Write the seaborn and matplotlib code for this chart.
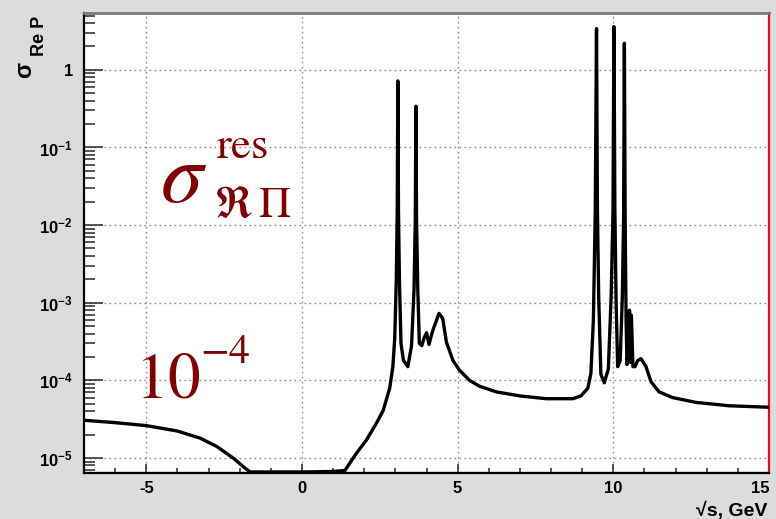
import matplotlib
matplotlib.use("Agg")
import matplotlib.pyplot as plt
import seaborn as sns
import pandas as pd
from matplotlib.ticker import FixedLocator, MultipleLocator, LogLocator, NullFormatter

# ---- data ----
x_gev = [-7.0, -6.0, -5.0, -4.02, -3.27, -2.73, -2.2, -1.88, -1.67,
         0.0, 1.0, 1.38, 1.75, 2.07, 2.39, 2.61, 2.82, 2.92, 2.98,
         3.03, 3.06, 3.08, 3.10, 3.13, 3.18, 3.26, 3.40, 3.52,
         3.60, 3.64, 3.66, 3.68, 3.72, 3.77, 3.85, 3.92, 4.00, 4.08,
         4.14, 4.22, 4.30, 4.40, 4.52, 4.64, 4.85, 5.06, 5.38, 5.7, 6.24,
         7.0, 7.84, 8.7, 8.96, 9.18, 9.28, 9.36, 9.42, 9.46, 9.49,
         9.53, 9.60, 9.71, 9.84, 9.93, 9.99, 10.02, 10.05, 10.09, 10.14,
         10.22, 10.29, 10.33, 10.355, 10.38, 10.41, 10.44, 10.49, 10.52,
         10.55, 10.58, 10.63, 10.70, 10.78, 10.89, 11.05, 11.21, 11.47,
         11.9, 12.65, 13.72, 15.0]
sigma = [3.06e-5, 2.85e-5, 2.61e-5, 2.23e-5, 1.8e-5, 1.4e-5, 9.9e-6, 7.7e-6, 6.6e-6,
         6.6e-6, 6.7e-6, 6.9e-6, 1.15e-5, 1.7e-5, 2.8e-5, 4.1e-5, 8.0e-5, 1.5e-4, 3.5e-4,
         2.0e-3, 1.5e-2, 0.72, 1.5e-2, 2.0e-3, 3.0e-4, 1.8e-4, 1.5e-4, 2.8e-4,
         1.5e-3, 1.2e-2, 0.34, 1.2e-2, 1.5e-3, 3.0e-4, 2.8e-4, 3.5e-4, 4.1e-4, 2.9e-4,
         3.6e-4, 4.6e-4, 5.6e-4, 7.3e-4, 6.3e-4, 3.1e-4, 1.8e-4, 1.35e-4, 1.0e-4, 8.4e-5, 7.1e-5,
         6.3e-5, 5.8e-5, 5.8e-5, 6.3e-5, 7.9e-5, 1.23e-4, 6.0e-4, 1.5e-2, 3.4, 1.5e-2,
         1.2e-3, 1.2e-4, 9.3e-5, 1.4e-4, 1.2e-3, 1.5e-2, 3.6, 1.5e-2, 1.0e-3, 1.5e-4,
         1.8e-4, 1.2e-3, 1.2e-2, 2.2, 1.2e-2, 6.0e-4, 1.6e-4, 3.0e-4, 8.0e-4,
         1.7e-4, 6.9e-4, 1.5e-4, 1.5e-4, 1.8e-4, 1.9e-4, 1.5e-4, 9.6e-5, 7.1e-5,
         6.0e-5, 5.2e-5, 4.7e-5, 4.5e-5]

x_ticks = [-5, 0, 5, 10, 15]
x_tick_labels = ["-5", "0", "5", "10", "15"]
y_ticks = [1e-5, 1e-4, 1e-3, 1e-2, 1e-1, 1]
y_tick_labels = [r"$10^{-5}$", r"$10^{-4}$", r"$10^{-3}$", r"$10^{-2}$", r"$10^{-1}$", "1"]

# ---- style ----
sns.set_theme(style="white")
plt.rcParams["font.family"] = ["Liberation Sans", "DejaVu Sans"]
plt.rcParams["mathtext.fontset"] = "custom"
plt.rcParams["mathtext.rm"] = "Liberation Sans:bold"
plt.rcParams["mathtext.it"] = "Liberation Sans:italic:bold"
plt.rcParams["mathtext.bf"] = "Liberation Sans:bold"

W, H = 776, 519
fig = plt.figure(figsize=(W / 100, H / 100), dpi=100, facecolor="#dcdcdc")
ax = fig.add_axes([84 / W, 46 / H, 685 / W, 460 / H])
ax.set_facecolor("white")

df = pd.DataFrame({"x": x_gev, "y": sigma})
sns.lineplot(data=df, x="x", y="y", ax=ax, color="black", lw=2.4,
             estimator=None, sort=False, zorder=3)
ax.set_yscale("log")
ax.set_xlim(-7, 15)
ax.set_ylim(6.4e-6, 5.4)
ax.set_xlabel("")
ax.set_ylabel("")

# ticks
ax.xaxis.set_major_locator(FixedLocator(x_ticks))
ax.set_xticklabels(x_tick_labels)
ax.xaxis.set_minor_locator(MultipleLocator(1))
ax.yaxis.set_major_locator(FixedLocator(y_ticks))
ax.set_yticklabels(y_tick_labels)
ax.yaxis.set_minor_locator(LogLocator(base=10, subs=[2, 3, 4, 5, 6, 7, 8, 9], numticks=20))
ax.yaxis.set_minor_formatter(NullFormatter())

ax.tick_params(axis="x", which="major", direction="in", length=6.5, width=1.1,
               bottom=True, top=False, pad=6, labelsize=12, labelcolor="black")
ax.tick_params(axis="x", which="minor", direction="in", length=3.6, width=1.1,
               bottom=True, top=False)
ax.tick_params(axis="y", which="major", direction="in", length=14, width=1.1,
               left=True, right=False, pad=8, labelsize=12, labelcolor="black")
ax.tick_params(axis="y", which="minor", direction="in", length=8, width=1.1,
               left=True, right=False)
for lab in ax.get_xticklabels() + ax.get_yticklabels():
    lab.set_fontweight("bold")
ax.get_xticklabels()[-1].set_horizontalalignment("right")

ax.grid(True, which="major", ls=(0, (1.2, 2.4)), color="#8c8c8c", lw=1.0)

# spines
ax.spines["left"].set_color("black")
ax.spines["left"].set_linewidth(1.6)
ax.spines["bottom"].set_color("black")
ax.spines["bottom"].set_linewidth(1.6)
ax.spines["top"].set_color("#7a7a7a")
ax.spines["top"].set_linewidth(2.0)
ax.spines["right"].set_color("#e01010")
ax.spines["right"].set_linewidth(1.6)
ax.axhline(6.55e-6, color="#e05050", lw=0.9, zorder=2)

# axis titles
fig.text(25 / W, 1 - 70 / H, "σ", rotation=90, fontsize=17, fontweight="bold",
         ha="center", va="center", color="black")
fig.text(39 / W, 1 - 36 / H, "Re P", rotation=90, fontsize=13, fontweight="bold",
         ha="center", va="center", color="black")
fig.text(767 / W, 1 - 516 / H, "√s, GeV", fontsize=14, fontweight="bold",
         ha="right", va="baseline", color="black")

# dark red overlay annotations
dr = "#800000"
fig.text(160 / W, 1 - 202 / H, r"$\sigma$", fontsize=61, math_fontfamily="stix",
         color=dr, ha="left", va="baseline")
fig.text(216 / W, 1 - 158 / H, r"$\mathrm{res}$", fontsize=32, math_fontfamily="stix",
         color=dr, ha="left", va="baseline")
fig.text(214 / W, 1 - 217 / H, r"$\Re\,\Pi$", fontsize=32, math_fontfamily="stix",
         color=dr, ha="left", va="baseline")
fig.text(135 / W, 1 - 397 / H, r"$10$", fontsize=47, math_fontfamily="stix",
         color=dr, ha="left", va="baseline")
fig.text(200 / W, 1 - 363 / H, r"$-4$", fontsize=30, math_fontfamily="stix",
         color=dr, ha="left", va="baseline")

fig.savefig("out.png", dpi=100, facecolor=fig.get_facecolor())
